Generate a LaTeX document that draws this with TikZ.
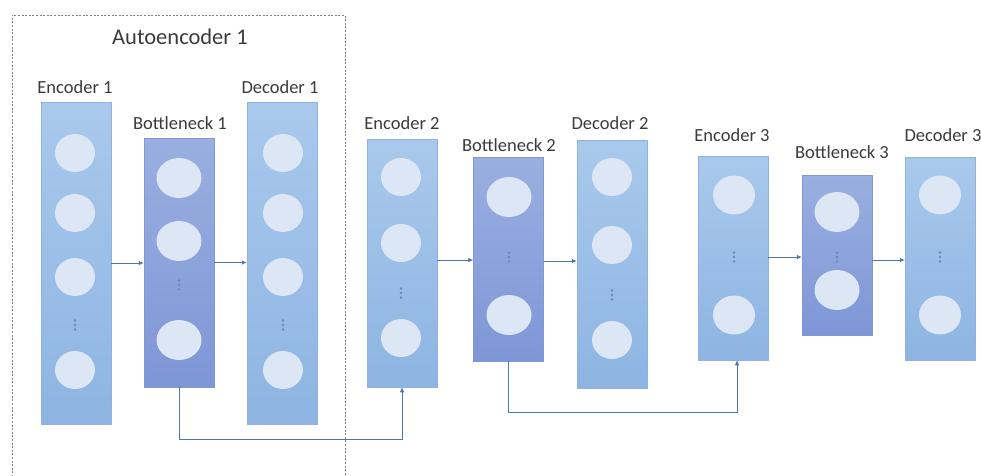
\documentclass[tikz,border=0pt]{standalone}
\usepackage{fontspec}
\setmainfont{Carlito}
\usetikzlibrary{arrows.meta,shapes.geometric}
\definecolor{enctop}{HTML}{A9C9EC}
\definecolor{encbot}{HTML}{8DB4E2}
\definecolor{bntop}{HTML}{9AAFE0}
\definecolor{bnbot}{HTML}{7E96D6}
\definecolor{layline}{HTML}{8FB2DE}
\definecolor{bnline}{HTML}{8397D2}
\definecolor{unitfill}{HTML}{DCE6F5}
\definecolor{dotc}{HTML}{6F86B5}
\definecolor{arrc}{HTML}{4F76AE}
\definecolor{txt}{HTML}{3A3A3A}
\definecolor{boxc}{HTML}{808080}
\newcommand\vdt[2]{\foreach \d in {-4.5,0,4.5} \fill[dotc] (#1,#2+\d) circle (1.4);}
\begin{document}
\begin{tikzpicture}[x=1pt,y=-1pt,
  layer/.style={rectangle, minimum width=70pt, inner sep=0pt, draw=layline, line width=0.5pt, top color=enctop, bottom color=encbot},
  bneck/.style={layer, draw=bnline, top color=bntop, bottom color=bnbot},
  unit/.style={ellipse, minimum width=40pt, minimum height=38pt, inner sep=0pt, fill=unitfill},
  bunit/.style={unit, minimum width=45pt, minimum height=40pt},
  lbl/.style={font=\fontsize{18.5}{20}\selectfont, text=txt, inner sep=0pt},
  arr/.style={draw=arrc, line width=0.7pt, -{Latex[length=5pt,width=4.5pt]}},
  dbox/.style={draw=boxc, line width=0.8pt, dash pattern=on 2pt off 1.6pt}
]
\useasboundingbox (0,0) rectangle (981,475);
% dashed frame
\draw[dbox] (12,477) -- (12,15) -- (345,15) -- (345,477);
\node[lbl, font=\fontsize{22.5}{24}\selectfont] (t1) at (180,37) {Autoencoder 1};

% layers
\node[layer, minimum height=322pt] (e1) at (76,263) {};
\node[bneck, minimum height=249pt] (b1) at (179,262.5) {};
\node[layer, minimum height=322pt] (d1) at (282,263) {};
\node[layer, minimum height=248pt] (e2) at (402,263) {};
\node[bneck, minimum height=204pt] (b2) at (508.5,259) {};
\node[layer, minimum height=248pt] (d2) at (612,264) {};
\node[layer, minimum height=204pt] (e3) at (733,258) {};
\node[bneck, minimum height=160pt] (b3) at (837,255) {};
\node[layer, minimum height=203pt] (d3) at (940,258.5) {};

% labels
\node[lbl] (le1) at (75,87) {Encoder 1};
\node[lbl] (lb1) at (180,123) {Bottleneck 1};
\node[lbl] (ld1) at (280,87) {Decoder 1};
\node[lbl] (le2) at (402,123) {Encoder 2};
\node[lbl] (lb2) at (509,145) {Bottleneck 2};
\node[lbl] (ld2) at (610,123) {Decoder 2};
\node[lbl] (le3) at (732,135) {Encoder 3};
\node[lbl] (lb3) at (842,152) {Bottleneck 3};
\node[lbl] (ld3) at (943,135) {Decoder 3};

% units
\foreach \y [count=\i] in {153,213,277,370} {
  \node[unit] (e1u\i) at (75,\y) {};
  \node[unit] (d1u\i) at (283,\y) {};
}
\vdt{75}{325} \vdt{283}{325}
\node[bunit] (b1u1) at (179,178) {};
\node[bunit] (b1u2) at (179,241) {};
\node[bunit] (b1u3) at (179,340) {};
\vdt{179}{285}
\foreach \y [count=\i] in {177,243,338} \node[unit] (e2u\i) at (401,\y) {};
\vdt{401}{293}
\node[bunit] (b2u1) at (509,197) {};
\node[bunit] (b2u2) at (509,315) {};
\vdt{509}{257}
\foreach \y [count=\i] in {177,245,340} \node[unit] (d2u\i) at (612,\y) {};
\vdt{612}{295}
\node[unit, minimum width=42pt, minimum height=39pt] (e3u1) at (734,195) {};
\node[unit, minimum width=42pt, minimum height=39pt] (e3u2) at (734,315) {};
\vdt{734}{257}
\node[bunit] (b3u1) at (837,212) {};
\node[bunit] (b3u2) at (837,290) {};
\vdt{837}{257}
\node[unit, minimum width=42pt, minimum height=39pt] (d3u1) at (940,195) {};
\node[unit, minimum width=42pt, minimum height=39pt] (d3u2) at (940,315) {};
\vdt{940}{257}

% connectors
\draw[arr] (e1.east) -- (e1.east -| b1.west);
\draw[arr] (b1.east) -- (b1.east -| d1.west);
\draw[arr] ([yshift=3pt]e2.east) -- ([yshift=3pt]e2.east -| b2.west);
\draw[arr] ([yshift=-2pt]b2.east) -- ([yshift=-2pt]b2.east -| d2.west);
\draw[arr] ([yshift=1pt]e3.east) -- ([yshift=1pt]e3.east -| b3.west);
\draw[arr] ([yshift=-5pt]b3.east) -- ([yshift=-5pt]b3.east -| d3.west);
\draw[arr] (b1.south) -- ++(0,52) -| (e2.south);
\draw[arr] (b2.south) -- ++(0,51) -| ([xshift=4pt]e3.south);
\end{tikzpicture}
\end{document}
